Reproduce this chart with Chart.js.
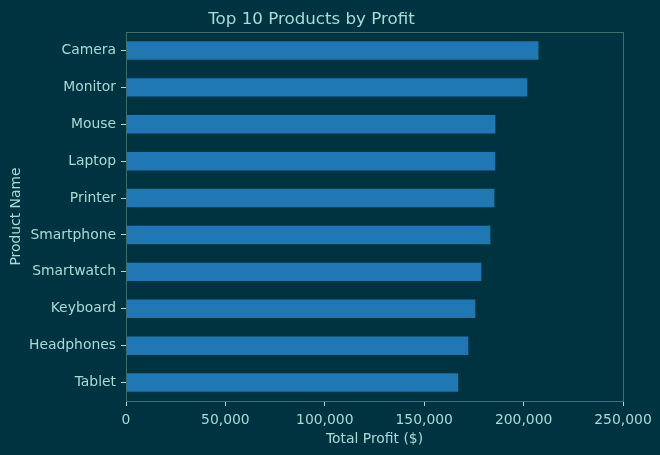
<!DOCTYPE html>
<html>
<head>
<meta charset="utf-8">
<script src="https://cdn.jsdelivr.net/npm/chart.js@4/dist/chart.umd.min.js"></script>
<style>
  html, body { margin: 0; padding: 0; background: #003340; }
  #wrap { width: 660px; height: 455px; }
</style>
</head>
<body>
<div id="wrap"><canvas id="chart" width="660" height="455"></canvas></div>
<script>
// top 10 products, listed top to bottom as drawn
var products = ['Camera', 'Monitor', 'Mouse', 'Laptop', 'Printer', 'Smartphone', 'Smartwatch', 'Keyboard', 'Headphones', 'Tablet'];
var totalProfit = [207500, 201900, 185800, 185700, 185300, 183300, 178700, 175700, 172200, 167100];
var profitTicks = [0, 50000, 100000, 150000, 200000, 250000];

var BG = '#003340';
var TEXT = '#a8dcd6';
var SPINE = '#3e6e70';
var BAR = '#1f77b4';

// paint background and the four spines around the plot area
var frame = {
    id: 'frame',
    beforeDraw: function(chart) {
        var c = chart.ctx;
        c.save();
        c.fillStyle = BG;
        c.fillRect(0, 0, chart.width, chart.height);
        c.restore();
    },
    afterDatasetsDraw: function(chart) {
        var a = chart.chartArea;
        var c = chart.ctx;
        c.save();
        c.strokeStyle = SPINE;
        c.lineWidth = 1;
        c.strokeRect(Math.round(a.left) + 0.5, Math.round(a.top) + 0.5,
                     Math.round(a.right - a.left), Math.round(a.bottom - a.top));
        c.restore();
    }
};

new Chart(document.getElementById('chart').getContext('2d'), {
    type: 'bar',
    data: {
        labels: products,
        datasets: [{
            data: totalProfit,
            backgroundColor: BAR,
            borderWidth: 0,
            categoryPercentage: 1.0,
            barPercentage: 0.5
        }]
    },
    options: {
        indexAxis: 'y',
        responsive: false,
        animation: false,
        layout: { padding: { left: 0, right: 37, top: 0, bottom: 0 } },
        plugins: {
            legend: { display: false },
            tooltip: { enabled: false },
            title: {
                display: true,
                text: 'Top 10 Products by Profit',
                color: TEXT,
                font: { family: 'DejaVu Sans', size: 16.7, weight: 'normal' },
                padding: { top: 10, bottom: 2 }
            }
        },
        scales: {
            x: {
                min: 0,
                max: 250000,
                afterFit: function(s) { s.height = 54; },
                afterBuildTicks: function(s) {
                    s.ticks = profitTicks.map(function(v) { return { value: v }; });
                },
                grid: { drawOnChartArea: false, color: TEXT, tickLength: 5 },
                border: { display: false },
                ticks: {
                    color: TEXT,
                    padding: 6,
                    maxRotation: 0,
                    font: { family: 'DejaVu Sans', size: 13.9 },
                    callback: function(v) { return Number(v).toLocaleString('en-US'); }
                },
                title: {
                    display: true,
                    text: 'Total Profit ($)',
                    color: TEXT,
                    font: { family: 'DejaVu Sans', size: 13.9 },
                    padding: 7
                }
            },
            y: {
                afterFit: function(s) { s.width = 126; },
                grid: { drawOnChartArea: false, offset: false, color: TEXT, tickLength: 5 },
                border: { display: false },
                ticks: {
                    color: TEXT,
                    padding: 5,
                    font: { family: 'DejaVu Sans', size: 13.9 }
                },
                title: {
                    display: true,
                    text: 'Product Name',
                    color: TEXT,
                    font: { family: 'DejaVu Sans', size: 13.9 },
                    padding: 8
                }
            }
        }
    },
    plugins: [frame]
});
</script>
</body>
</html>
